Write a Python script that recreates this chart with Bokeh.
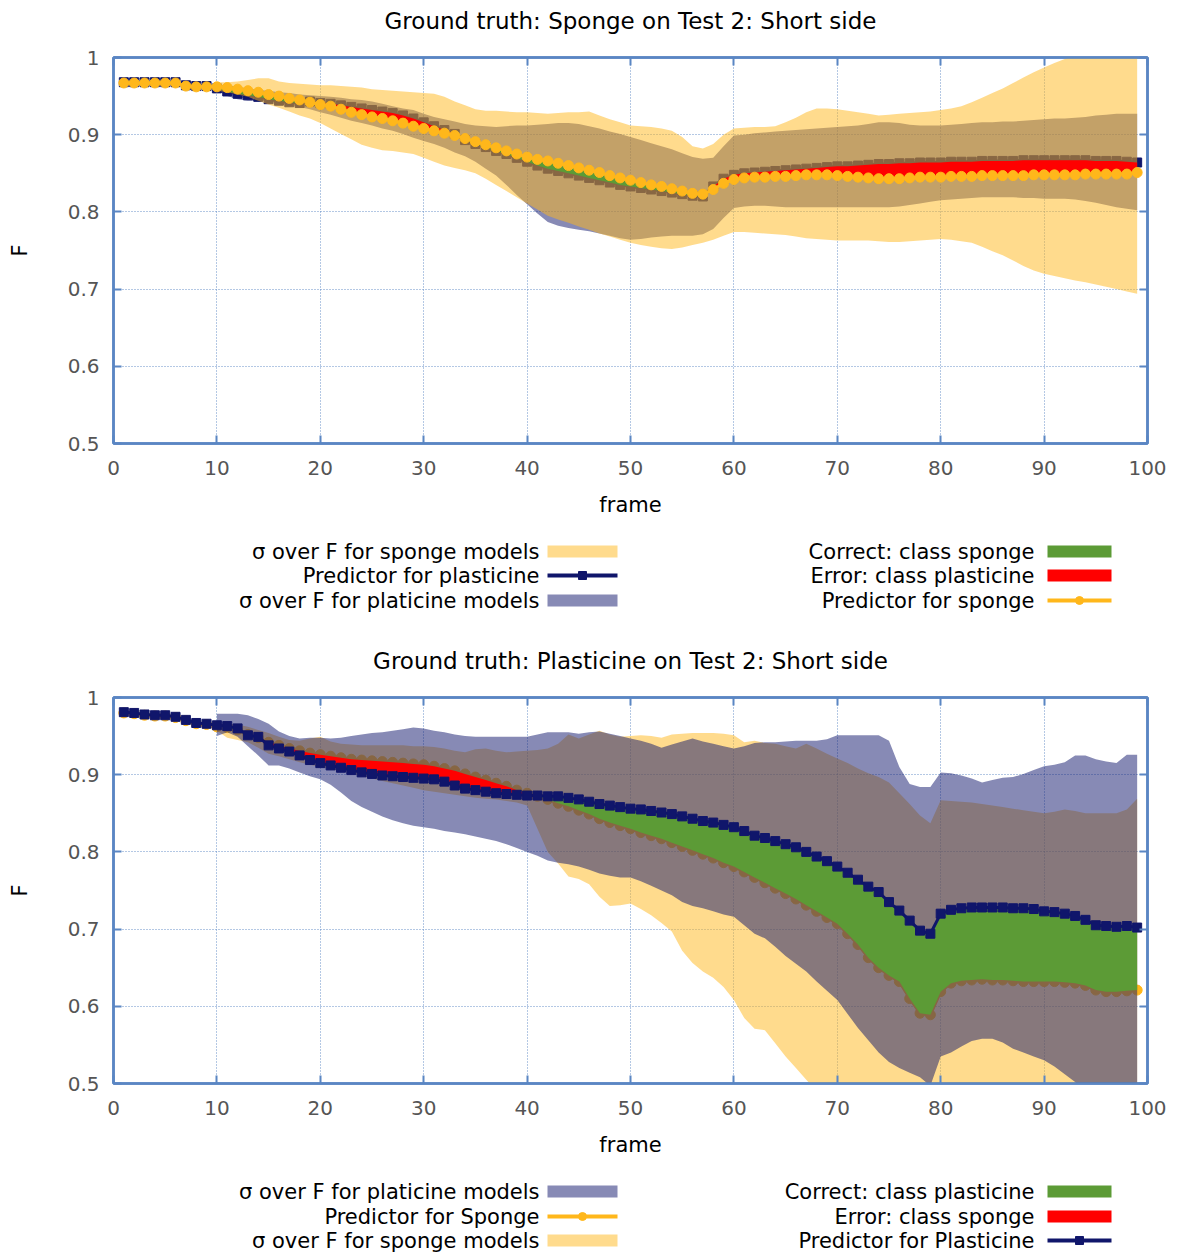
from bokeh.plotting import figure
from bokeh.models import Range1d, FixedTicker, LinearAxis, CustomJSTickFormatter, ColumnDataSource
from bokeh.layouts import column
from bokeh.embed import file_html
from bokeh.resources import INLINE
from bokeh.core.properties import value

# ---------------- data ----------------
FRAMES = list(range(1, 100))
BAND_FRAMES = list(range(10, 100))
X_TICKS = [0, 10, 20, 30, 40, 50, 60, 70, 80, 90, 100]
Y_TICKS = [0.5, 0.6, 0.7, 0.8, 0.9, 1.0]

TITLE_1 = "Ground truth: Sponge on Test 2: Short side"
TITLE_2 = "Ground truth: Plasticine on Test 2: Short side"

# chart 1 (ground truth sponge)
c1_sponge_pred = [
    0.967, 0.967, 0.967, 0.967, 0.967, 0.967, 0.963, 0.962, 0.962, 0.962,
    0.961, 0.959, 0.957, 0.955, 0.952, 0.950, 0.947, 0.945,
    0.942, 0.939, 0.937, 0.933, 0.929, 0.926, 0.923, 0.921, 0.918, 0.915, 0.911, 0.908,
    0.905, 0.902, 0.899, 0.895, 0.891, 0.887, 0.883, 0.879, 0.875, 0.871,
    0.868, 0.866, 0.863, 0.860, 0.857, 0.854, 0.851, 0.847, 0.844, 0.841,
    0.838, 0.835, 0.833, 0.830, 0.827, 0.824, 0.823, 0.829, 0.837, 0.842,
    0.844, 0.845, 0.845, 0.846, 0.846, 0.847, 0.848, 0.848, 0.848, 0.847,
    0.846, 0.845, 0.844, 0.843, 0.843, 0.843, 0.844, 0.845, 0.845, 0.845,
    0.846, 0.846, 0.846, 0.847, 0.847, 0.847, 0.847, 0.847, 0.848, 0.848,
    0.848, 0.848, 0.848, 0.849, 0.849, 0.849, 0.849, 0.849, 0.851]
c1_plast_pred = [
    0.968, 0.968, 0.968, 0.968, 0.968, 0.968, 0.964, 0.963, 0.963, 0.960,
    0.956, 0.953, 0.951, 0.949, 0.946, 0.944, 0.942, 0.941,
    0.943, 0.941, 0.940, 0.938, 0.936, 0.934, 0.932, 0.930, 0.928, 0.925, 0.921, 0.916,
    0.911, 0.906, 0.901, 0.893, 0.888, 0.884, 0.879, 0.875, 0.870, 0.865,
    0.860, 0.856, 0.853, 0.850, 0.847, 0.844, 0.841, 0.838, 0.835, 0.833,
    0.831, 0.829, 0.827, 0.825, 0.823, 0.821, 0.820, 0.833, 0.843, 0.848,
    0.850, 0.851, 0.852, 0.853, 0.854, 0.855, 0.856, 0.857, 0.858, 0.859,
    0.859, 0.860, 0.861, 0.862, 0.862, 0.863, 0.863, 0.864, 0.864, 0.864,
    0.865, 0.865, 0.865, 0.866, 0.866, 0.866, 0.866, 0.867, 0.867, 0.867,
    0.867, 0.867, 0.867, 0.867, 0.866, 0.866, 0.866, 0.865, 0.864]
c1_sponge_upper = [
    0.968, 0.968, 0.969, 0.971, 0.973, 0.973, 0.969, 0.967, 0.966, 0.965,
    0.964, 0.964, 0.963, 0.962, 0.961, 0.959, 0.958, 0.957, 0.956, 0.955,
    0.954, 0.953, 0.949, 0.943, 0.938, 0.933, 0.931, 0.931, 0.930, 0.929,
    0.929, 0.928, 0.927, 0.928, 0.929, 0.929, 0.930, 0.925, 0.920, 0.916,
    0.912, 0.911, 0.910, 0.908, 0.905, 0.897, 0.885, 0.882, 0.888, 0.900,
    0.908, 0.909, 0.910, 0.910, 0.911, 0.916, 0.922, 0.929, 0.934, 0.934,
    0.933, 0.931, 0.929, 0.927, 0.925, 0.926, 0.927, 0.928, 0.929, 0.930,
    0.932, 0.934, 0.937, 0.942, 0.948, 0.954, 0.960, 0.967, 0.974, 0.981,
    0.987, 0.993, 0.998, 1.003, 1.006, 1.008, 1.010, 1.010, 1.011, 1.012]
c1_sponge_lower = [
    0.957, 0.955, 0.952, 0.949, 0.944, 0.939, 0.935, 0.930, 0.925, 0.921,
    0.915, 0.908, 0.901, 0.894, 0.887, 0.883, 0.880, 0.879, 0.877, 0.875,
    0.870, 0.865, 0.860, 0.857, 0.854, 0.850, 0.843, 0.835, 0.827, 0.819,
    0.811, 0.803, 0.795, 0.790, 0.786, 0.781, 0.777, 0.772, 0.768, 0.764,
    0.760, 0.757, 0.755, 0.753, 0.752, 0.754, 0.757, 0.760, 0.764, 0.769,
    0.774, 0.774, 0.773, 0.772, 0.771, 0.770, 0.768, 0.766, 0.765, 0.764,
    0.763, 0.763, 0.763, 0.763, 0.762, 0.761, 0.761, 0.762, 0.763, 0.764,
    0.765, 0.764, 0.762, 0.760, 0.755, 0.749, 0.744, 0.737, 0.730, 0.724,
    0.720, 0.717, 0.714, 0.711, 0.709, 0.706, 0.703, 0.700, 0.697, 0.694]
c1_plast_upper = [
    0.965, 0.964, 0.962, 0.960, 0.958, 0.957, 0.955, 0.954, 0.952, 0.951,
    0.950, 0.949, 0.948, 0.946, 0.945, 0.943, 0.940, 0.937, 0.934, 0.932,
    0.927, 0.923, 0.920, 0.917, 0.914, 0.912, 0.911, 0.910, 0.911, 0.912,
    0.912, 0.913, 0.914, 0.915, 0.915, 0.914, 0.911, 0.908, 0.904, 0.901,
    0.897, 0.893, 0.889, 0.885, 0.881, 0.876, 0.871, 0.869, 0.870, 0.885,
    0.899, 0.900, 0.902, 0.903, 0.904, 0.905, 0.906, 0.907, 0.908, 0.909,
    0.910, 0.911, 0.912, 0.914, 0.916, 0.916, 0.915, 0.913, 0.912, 0.912,
    0.912, 0.913, 0.914, 0.915, 0.916, 0.916, 0.917, 0.917, 0.918, 0.919,
    0.920, 0.921, 0.921, 0.922, 0.923, 0.925, 0.926, 0.927, 0.927, 0.927]
c1_plast_lower = [
    0.958, 0.950, 0.946, 0.944, 0.944, 0.943, 0.941, 0.939, 0.936, 0.933,
    0.929, 0.926, 0.922, 0.918, 0.915, 0.912, 0.908, 0.905, 0.901, 0.896,
    0.892, 0.888, 0.883, 0.877, 0.872, 0.865, 0.856, 0.847, 0.835, 0.822,
    0.810, 0.798, 0.787, 0.782, 0.779, 0.777, 0.775, 0.772, 0.769, 0.766,
    0.764, 0.765, 0.767, 0.768, 0.769, 0.769, 0.769, 0.771, 0.778, 0.792,
    0.805, 0.807, 0.808, 0.808, 0.807, 0.806, 0.806, 0.806, 0.806, 0.806,
    0.806, 0.806, 0.806, 0.806, 0.806, 0.806, 0.807, 0.809, 0.811, 0.813,
    0.815, 0.816, 0.817, 0.818, 0.819, 0.819, 0.819, 0.819, 0.818, 0.818,
    0.817, 0.817, 0.817, 0.816, 0.814, 0.812, 0.809, 0.806, 0.804, 0.802]

# chart 2 (ground truth plasticine)
c2_plast_pred = [
    0.981, 0.980, 0.978, 0.977, 0.977, 0.975, 0.971, 0.967, 0.966, 0.964,
    0.963, 0.960, 0.951, 0.949, 0.938, 0.934, 0.930, 0.925, 0.919, 0.915,
    0.912, 0.909, 0.906, 0.903, 0.901, 0.899, 0.898, 0.897, 0.896, 0.895,
    0.894, 0.891, 0.886, 0.882, 0.880, 0.878, 0.876, 0.875, 0.874, 0.873,
    0.873, 0.872, 0.872, 0.870, 0.868, 0.865, 0.862, 0.860, 0.858, 0.856,
    0.855, 0.853, 0.851, 0.849, 0.846, 0.843, 0.840, 0.838, 0.835, 0.832,
    0.827, 0.821, 0.818, 0.814, 0.810, 0.806, 0.800, 0.794, 0.788, 0.781,
    0.773, 0.764, 0.755, 0.748, 0.735, 0.724, 0.711, 0.698, 0.694, 0.720,
    0.725, 0.727, 0.728, 0.728, 0.728, 0.728, 0.727, 0.727, 0.726, 0.723,
    0.722, 0.720, 0.717, 0.712, 0.705, 0.704, 0.703, 0.704, 0.702]
c2_sponge_pred = [
    0.980, 0.979, 0.977, 0.976, 0.976, 0.974, 0.970, 0.966, 0.965, 0.962,
    0.961, 0.958, 0.952, 0.948, 0.942, 0.938, 0.934, 0.931, 0.928, 0.926,
    0.924, 0.922, 0.920, 0.919, 0.918, 0.917, 0.916, 0.915, 0.914, 0.913,
    0.911, 0.908, 0.905, 0.901, 0.897, 0.893, 0.889, 0.885, 0.880, 0.876,
    0.872, 0.868, 0.863, 0.859, 0.854, 0.849, 0.843, 0.838, 0.834, 0.830,
    0.825, 0.821, 0.817, 0.812, 0.807, 0.802, 0.797, 0.792, 0.786, 0.781,
    0.774, 0.767, 0.760, 0.753, 0.746, 0.739, 0.731, 0.723, 0.715, 0.707,
    0.694, 0.680, 0.663, 0.650, 0.640, 0.632, 0.610, 0.591, 0.589, 0.619,
    0.630, 0.633, 0.634, 0.635, 0.634, 0.634, 0.633, 0.632, 0.632, 0.632,
    0.632, 0.631, 0.630, 0.627, 0.621, 0.619, 0.619, 0.620, 0.621]
c2_plast_upper = [
    0.979, 0.979, 0.979, 0.977, 0.972, 0.966, 0.956, 0.950, 0.947, 0.948,
    0.948, 0.947, 0.948, 0.950, 0.952, 0.954, 0.955, 0.957, 0.959, 0.961,
    0.960, 0.957, 0.955, 0.952, 0.950, 0.949, 0.949, 0.949, 0.949, 0.949,
    0.949, 0.952, 0.955, 0.955, 0.955, 0.953, 0.955, 0.956, 0.953, 0.950,
    0.947, 0.944, 0.940, 0.935, 0.939, 0.943, 0.947, 0.943, 0.940, 0.937,
    0.934, 0.937, 0.941, 0.942, 0.942, 0.943, 0.944, 0.944, 0.944, 0.946,
    0.951, 0.951, 0.951, 0.951, 0.951, 0.944, 0.910, 0.888, 0.884, 0.884,
    0.903, 0.902, 0.899, 0.895, 0.890, 0.893, 0.896, 0.897, 0.901, 0.906,
    0.911, 0.913, 0.916, 0.925, 0.925, 0.920, 0.917, 0.915, 0.926, 0.926]
c2_plast_lower = [
    0.950, 0.955, 0.949, 0.937, 0.925, 0.912, 0.912, 0.908, 0.903, 0.898,
    0.894, 0.887, 0.877, 0.866, 0.858, 0.852, 0.846, 0.841, 0.837, 0.834,
    0.832, 0.830, 0.827, 0.825, 0.823, 0.820, 0.817, 0.814, 0.810, 0.805,
    0.800, 0.795, 0.789, 0.786, 0.784, 0.781, 0.777, 0.772, 0.769, 0.767,
    0.767, 0.762, 0.756, 0.750, 0.744, 0.735, 0.730, 0.727, 0.723, 0.719,
    0.716, 0.705, 0.694, 0.688, 0.677, 0.665, 0.655, 0.645, 0.632, 0.620,
    0.608, 0.590, 0.572, 0.556, 0.540, 0.528, 0.520, 0.514, 0.508, 0.497,
    0.535, 0.540, 0.548, 0.555, 0.558, 0.558, 0.553, 0.545, 0.540, 0.535,
    0.530, 0.522, 0.512, 0.502, 0.490, 0.482, 0.478, 0.474, 0.472, 0.470]
c2_sponge_upper = [
    0.967, 0.966, 0.965, 0.962, 0.958, 0.954, 0.949, 0.945, 0.944, 0.947,
    0.949, 0.943, 0.940, 0.939, 0.938, 0.938, 0.938, 0.938, 0.938, 0.937,
    0.937, 0.936, 0.934, 0.931, 0.929, 0.933, 0.934, 0.931, 0.929, 0.930,
    0.931, 0.932, 0.934, 0.940, 0.952, 0.947, 0.952, 0.957, 0.952, 0.949,
    0.950, 0.951, 0.950, 0.948, 0.952, 0.953, 0.954, 0.954, 0.954, 0.953,
    0.951, 0.942, 0.944, 0.941, 0.940, 0.937, 0.934, 0.940, 0.934, 0.927,
    0.921, 0.915, 0.908, 0.902, 0.897, 0.890, 0.876, 0.862, 0.847, 0.837,
    0.867, 0.866, 0.865, 0.864, 0.862, 0.860, 0.858, 0.856, 0.854, 0.852,
    0.850, 0.852, 0.855, 0.853, 0.850, 0.850, 0.850, 0.850, 0.855, 0.869]
c2_sponge_lower = [
    0.957, 0.948, 0.945, 0.942, 0.935, 0.927, 0.924, 0.920, 0.916, 0.913,
    0.910, 0.907, 0.904, 0.902, 0.898, 0.895, 0.892, 0.889, 0.886, 0.883,
    0.880, 0.878, 0.876, 0.874, 0.872, 0.870, 0.869, 0.868, 0.866, 0.864,
    0.860, 0.830, 0.800, 0.785, 0.768, 0.765, 0.758, 0.742, 0.730, 0.731,
    0.733, 0.726, 0.718, 0.708, 0.697, 0.672, 0.656, 0.645, 0.637, 0.625,
    0.608, 0.585, 0.571, 0.569, 0.552, 0.535, 0.520, 0.505, 0.490, 0.478,
    0.466, 0.455, 0.448, 0.440, 0.435, 0.430, 0.425, 0.420, 0.415, 0.410,
    0.430, 0.432, 0.435, 0.437, 0.438, 0.438, 0.436, 0.433, 0.430, 0.428,
    0.425, 0.420, 0.415, 0.410, 0.405, 0.400, 0.398, 0.396, 0.395, 0.394]

LEG1_LEFT = ["σ over F for sponge models", "Predictor for plasticine", "σ over F for platicine models"]
LEG1_RIGHT = ["Correct: class sponge", "Error: class plasticine", "Predictor for sponge"]
LEG2_LEFT = ["σ over F for platicine models", "Predictor for Sponge", "σ over F for sponge models"]
LEG2_RIGHT = ["Correct: class plasticine", "Error: class sponge", "Predictor for Plasticine"]

# ---------------- style ----------------
FONT = "DejaVu Sans"
ORANGE = "#FFB71B"
NAVY = "#10166B"
GREEN = "#5C9B36"
RED = "#FF0000"
FRAME = "#5A86C3"
TICK_TXT = "#555555"
W = 1170
BL, BR = 113, 23          # left / right borders around the plot frame
FRAME_H = 386
HEAD_H = 36


def class_fill(x, truth, other):
    runs = []
    cur = None
    prev = None
    for xi, a, b in zip(x, truth, other):
        d = a - b
        s = 1 if d >= 0 else -1
        if cur is None:
            cur = [s, [xi], [a], [b]]
        elif s != cur[0]:
            px, pa, pb = prev
            dp = pa - pb
            t = dp / (dp - d)
            xm = px + t * (xi - px)
            ym = pa + t * (a - pa)
            cur[1].append(xm); cur[2].append(ym); cur[3].append(ym)
            runs.append(cur)
            cur = [s, [xm, xi], [ym, a], [ym, b]]
        else:
            cur[1].append(xi); cur[2].append(a); cur[3].append(b)
        prev = (xi, a, b)
    runs.append(cur)
    xs = [r[1] + r[1][::-1] for r in runs]
    ys = [r[2] + r[3][::-1] for r in runs]
    cols = [GREEN if r[0] > 0 else RED for r in runs]
    return ColumnDataSource(dict(xs=xs, ys=ys, color=cols))


def style_axis(ax, labels=True):
    ax.axis_line_color = FRAME
    ax.axis_line_width = 2.5
    ax.major_tick_line_color = FRAME
    ax.major_tick_line_width = 2
    ax.major_tick_in = 8
    ax.major_tick_out = 0
    ax.minor_tick_line_color = None
    ax.major_label_text_font = FONT
    ax.major_label_text_font_size = "20px"
    ax.major_label_text_color = TICK_TXT
    if not labels:
        ax.formatter = CustomJSTickFormatter(code="return ''")
        ax.major_label_standoff = 0


def blank_panel(height):
    # x coordinates of this panel equal page pixels (frame spans BL .. W-BR)
    lp = figure(width=W, height=height, x_range=Range1d(BL, W - BR), y_range=Range1d(height, 0),
                output_backend="svg", toolbar_location=None, title=None,
                x_axis_location=None, y_axis_location=None,
                min_border_left=BL, min_border_right=BR, min_border_top=0, min_border_bottom=0)
    lp.grid.visible = False
    lp.outline_line_color = None
    return lp


def make_header(text):
    hp = blank_panel(HEAD_H)
    hp.text(x=[(BL + W - BR) / 2], y=[20], text=[text], text_align="center",
            text_baseline="middle", text_font=value(FONT), text_font_size="23px",
            text_color="black")
    return hp


def make_plot(under, over, bands, truth, other):
    p = figure(width=W, height=57 - HEAD_H + FRAME_H + 82, title=None,
               x_range=Range1d(0, 100), y_range=Range1d(0.5, 1.0),
               output_backend="svg", toolbar_location=None,
               min_border_left=BL, min_border_right=BR,
               min_border_top=57 - HEAD_H, min_border_bottom=82)
    p.outline_line_color = FRAME
    p.outline_line_width = 2.5

    xt = FixedTicker(ticks=X_TICKS)
    yt = FixedTicker(ticks=Y_TICKS)
    xa = p.xaxis[0]
    ya = p.yaxis[0]
    xa.ticker = xt
    ya.ticker = yt
    ya.formatter = CustomJSTickFormatter(code="return String(tick)")
    style_axis(xa)
    style_axis(ya)
    xa.major_label_standoff = 17
    ya.major_label_standoff = 14
    xa.axis_label = "frame"
    ya.axis_label = "F"
    for ax in (xa, ya):
        ax.axis_label_text_font = FONT
        ax.axis_label_text_font_size = "21px"
        ax.axis_label_text_font_style = "normal"
        ax.axis_label_text_color = "black"
    xa.axis_label_standoff = 15
    ya.axis_label_standoff = 33

    top_ax = LinearAxis(ticker=FixedTicker(ticks=X_TICKS))
    style_axis(top_ax, labels=False)
    p.add_layout(top_ax, "above")
    right_ax = LinearAxis(ticker=FixedTicker(ticks=Y_TICKS))
    style_axis(right_ax, labels=False)
    p.add_layout(right_ax, "right")

    p.xgrid.ticker = xt
    p.ygrid.ticker = yt
    p.grid.grid_line_color = FRAME
    p.grid.grid_line_dash = "1 2"
    p.grid.grid_line_width = 1
    p.grid.grid_line_alpha = 0.9

    # predictor that lies under the bands
    uy, ucol, umark, usize = under
    p.line(FRAMES, uy, line_color=ucol, line_width=3)
    p.scatter(FRAMES, uy, marker=umark, size=usize, fill_color=ucol, line_color=ucol)

    for lo, hi, col in bands:
        p.varea(x=BAND_FRAMES, y1=lo, y2=hi, fill_color=col, fill_alpha=0.5)

    p.patches(xs="xs", ys="ys", fill_color="color", line_color=None,
              source=class_fill(FRAMES, truth, other))

    oy, ocol, omark, osize = over
    p.line(FRAMES, oy, line_color=ocol, line_width=3)
    p.scatter(FRAMES, oy, marker=omark, size=osize, fill_color=ocol, line_color=ocol)
    return p


def make_legend(height, rows, left, right):
    lp = blank_panel(height)
    cols = [(539, 547, 617, left), (1034, 1047, 1111, right)]
    for tx, x0, x1, items in cols:
        for (label, kind, col, mark), y in zip(items, rows):
            lp.text(x=[tx], y=[y], text=[label], text_align="right", text_baseline="middle",
                    text_font=value(FONT), text_font_size="21px", text_color="black")
            if kind == "band":
                lp.quad(left=[x0], right=[x1], top=[y - 6], bottom=[y + 6],
                        fill_color=col, fill_alpha=0.5, line_color=None)
            elif kind == "fill":
                lp.quad(left=[x0], right=[x1], top=[y - 6], bottom=[y + 6],
                        fill_color=col, line_color=None)
            else:
                lp.line([x0, x1], [y, y], line_color=col, line_width=4)
                lp.scatter([(x0 + x1) / 2], [y], marker=mark, size=8,
                           fill_color=col, line_color=col)
    return lp


h1 = make_header(TITLE_1)
p1 = make_plot((c1_plast_pred, NAVY, "square", 9),
               (c1_sponge_pred, ORANGE, "circle", 10),
               [(c1_plast_lower, c1_plast_upper, NAVY),
                (c1_sponge_lower, c1_sponge_upper, ORANGE)],
               c1_sponge_pred, c1_plast_pred)
l1 = make_legend(115, [26, 50, 75],
                 [(LEG1_LEFT[0], "band", ORANGE, None),
                  (LEG1_LEFT[1], "line", NAVY, "square"),
                  (LEG1_LEFT[2], "band", NAVY, None)],
                 [(LEG1_RIGHT[0], "fill", GREEN, None),
                  (LEG1_RIGHT[1], "fill", RED, None),
                  (LEG1_RIGHT[2], "line", ORANGE, "circle")])
h2 = make_header(TITLE_2)
p2 = make_plot((c2_sponge_pred, ORANGE, "circle", 10),
               (c2_plast_pred, NAVY, "square", 9),
               [(c2_sponge_lower, c2_sponge_upper, ORANGE),
                (c2_plast_lower, c2_plast_upper, NAVY)],
               c2_plast_pred, c2_sponge_pred)
l2 = make_legend(87, [26, 51, 75],
                 [(LEG2_LEFT[0], "band", NAVY, None),
                  (LEG2_LEFT[1], "line", ORANGE, "circle"),
                  (LEG2_LEFT[2], "band", ORANGE, None)],
                 [(LEG2_RIGHT[0], "fill", GREEN, None),
                  (LEG2_RIGHT[1], "fill", RED, None),
                  (LEG2_RIGHT[2], "line", NAVY, "square")])

layout = column(h1, p1, l1, h2, p2, l2, spacing=0)
open("out.html", "w").write(file_html(layout, INLINE))
